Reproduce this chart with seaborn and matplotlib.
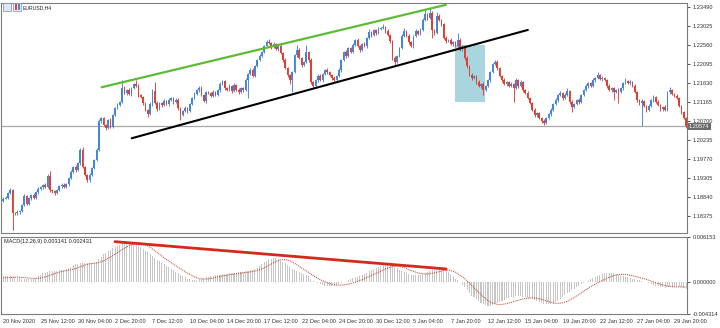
import numpy as np
import matplotlib
matplotlib.use("Agg")
import matplotlib.pyplot as plt
import matplotlib.transforms as mtransforms
from matplotlib.patches import Rectangle
import seaborn as sns

# ---------------- data (prices in pips above BASE) ----------------
BASE = 1.18
PIP = 0.0001
first_open_pips = 75
close_pips = [
    80, 82, 94, 101, 45, 44, 47, 50, 64, 86,
    68, 82, 89, 82, 96, 104, 109, 114, 109, 136,
    101, 98, 94, 101, 111, 114, 109, 116, 131, 145,
    158, 150, 167, 200, 158, 138, 126, 138, 155, 175,
    199, 270, 277, 261, 253, 273, 256, 285, 302, 310,
    317, 351, 339, 346, 337, 351, 361, 356, 334, 329,
    314, 297, 288, 312, 345, 315, 300, 314, 309, 319,
    312, 322, 327, 317, 322, 302, 285, 295, 302, 295,
    312, 327, 337, 346, 351, 334, 319, 341, 339, 332,
    341, 334, 346, 361, 368, 351, 346, 356, 344, 359,
    346, 341, 351, 346, 371, 386, 395, 381, 405, 420,
    430, 440, 454, 464, 462, 452, 459, 447, 454, 437,
    420, 400, 383, 371, 390, 432, 444, 425, 408, 415,
    440, 420, 366, 356, 371, 381, 371, 386, 395, 390,
    383, 376, 371, 381, 395, 420, 440, 430, 449, 440,
    457, 469, 454, 444, 459, 454, 474, 489, 481, 493,
    486, 496, 498, 501, 491, 481, 466, 425, 415, 430,
    449, 479, 491, 479, 464, 454, 479, 491, 484, 493,
    518, 533, 523, 535, 493, 486, 528, 518, 508, 474,
    466, 469, 459, 464, 454, 469, 444, 454, 425, 405,
    383, 376, 381, 366, 356, 361, 346, 356, 371, 390,
    410, 415, 400, 381, 371, 361, 366, 356, 361, 351,
    371, 356, 366, 346, 339, 327, 314, 297, 285, 290,
    277, 270, 265, 277, 287, 297, 312, 322, 334, 339,
    327, 334, 344, 317, 305, 312, 322, 317, 334, 346,
    356, 363, 356, 371, 376, 383, 373, 376, 371, 356,
    346, 351, 341, 346, 341, 351, 363, 368, 363, 366,
    356, 341, 322, 314, 319, 307, 297, 307, 322, 329,
    317, 309, 300, 305, 297, 341, 346, 337, 332, 327,
    307, 292, 277, 257,
]
upper_wick_pips = [
    3, 4, 2, 5, 3, 2, 4, 3, 2, 5,
    4, 3, 2, 5, 3, 4, 2, 3, 5, 4,
    12, 3, 4, 2, 3, 5, 4, 2, 3, 4,
    3, 5, 2, 4, 6, 3, 2, 4, 3, 2,
    4, 5, 3, 4, 2, 3, 5, 2, 3, 4,
    2, 20, 4, 3, 5, 2, 3, 11, 4, 3,
    2, 4, 3, 5, 3, 20, 4, 3, 2, 5,
    3, 4, 2, 3, 5, 4, 2, 3, 4, 3,
    2, 3, 4, 3, 5, 4, 3, 2, 4, 3,
    5, 2, 3, 4, 3, 4, 2, 5, 3, 4,
    3, 4, 2, 3, 4, 3, 5, 4, 2, 3,
    4, 3, 2, 5, 7, 3, 4, 2, 3, 4,
    3, 4, 2, 3, 4, 3, 13, 4, 3, 2,
    17, 3, 4, 2, 3, 5, 4, 2, 3, 4,
    3, 2, 4, 3, 5, 2, 3, 4, 3, 2,
    4, 3, 5, 2, 3, 4, 3, 7, 2, 4,
    3, 4, 2, 7, 3, 4, 2, 3, 4, 3,
    2, 4, 7, 3, 4, 2, 3, 4, 3, 5,
    4, 9, 3, 12, 4, 3, 10, 4, 3, 2,
    4, 3, 5, 2, 3, 17, 4, 3, 2, 4,
    3, 4, 2, 3, 4, 3, 5, 2, 3, 4,
    3, 5, 4, 3, 2, 4, 3, 2, 4, 3,
    5, 3, 4, 2, 3, 4, 3, 2, 4, 3,
    2, 3, 4, 3, 2, 4, 3, 5, 2, 4,
    3, 4, 7, 3, 4, 2, 3, 4, 3, 2,
    4, 3, 2, 4, 3, 7, 3, 4, 2, 3,
    4, 3, 2, 3, 4, 3, 2, 8, 3, 4,
    3, 4, 2, 3, 4, 3, 2, 4, 3, 5,
    3, 4, 2, 3, 4, 3, 8, 2, 3, 4,
    3, 2, 4, 3,
]
lower_wick_pips = [
    3, 2, 4, 3, 42, 5, 3, 4, 2, 3,
    4, 3, 5, 2, 3, 4, 2, 5, 3, 2,
    4, 3, 5, 2, 3, 4, 3, 2, 4, 3,
    2, 4, 3, 5, 2, 3, 5, 4, 3, 2,
    3, 2, 4, 3, 5, 2, 3, 4, 2, 3,
    4, 3, 2, 4, 3, 5, 2, 3, 4, 3,
    5, 3, 8, 2, 4, 3, 5, 2, 4, 3,
    2, 4, 3, 5, 2, 4, 13, 3, 2, 4,
    3, 2, 4, 3, 5, 2, 3, 4, 2, 3,
    4, 3, 2, 5, 3, 4, 2, 3, 4, 3,
    2, 4, 3, 5, 3, 44, 2, 4, 3, 2,
    3, 4, 2, 3, 4, 5, 3, 2, 4, 3,
    4, 3, 5, 10, 30, 3, 4, 3, 5, 2,
    3, 4, 5, 3, 2, 4, 3, 5, 2, 4,
    3, 4, 8, 3, 2, 4, 3, 5, 2, 3,
    3, 4, 2, 5, 3, 2, 4, 3, 4, 2,
    4, 3, 2, 3, 4, 3, 5, 4, 7, 3,
    2, 3, 4, 3, 5, 2, 4, 3, 2, 4,
    3, 2, 4, 3, 19, 4, 3, 2, 5, 3,
    4, 2, 3, 5, 3, 4, 3, 2, 4, 5,
    3, 4, 2, 5, 3, 4, 12, 3, 2, 4,
    3, 2, 4, 3, 5, 2, 4, 3, 2, 34,
    3, 4, 2, 5, 3, 4, 2, 3, 5, 4,
    3, 4, 5, 2, 3, 4, 2, 3, 4, 3,
    5, 3, 2, 4, 13, 3, 2, 4, 3, 2,
    3, 4, 2, 3, 4, 3, 2, 4, 3, 5,
    3, 4, 19, 2, 27, 3, 4, 2, 3, 4,
    2, 3, 5, 4, 56, 3, 4, 2, 3, 4,
    3, 2, 4, 5, 3, 2, 4, 3, 2, 4,
    3, 4, 2, 3,
]
# MACD(12,26,9) values in units of 1e-5
macd_main_e5 = [
    80, 82, 83, 80, 75, 68, 60, 55, 50, 47,
    45, 44, 46, 50, 62, 80, 100, 120, 130, 140,
    150, 152, 155, 158, 160, 165, 170, 180, 195, 212,
    230, 245, 255, 260, 262, 260, 258, 260, 262, 268,
    280, 320, 350, 380, 400, 420, 440, 460, 480, 495,
    510, 530, 540, 550, 552, 550, 545, 530, 505, 480,
    455, 430, 405, 380, 355, 330, 305, 285, 265, 245,
    225, 205, 185, 165, 145, 125, 105, 85, 65, 50,
    38, 30, 28, 32, 40, 50, 60, 68, 75, 82,
    88, 93, 98, 103, 108, 112, 116, 120, 124, 128,
    132, 135, 138, 142, 148, 155, 162, 172, 185, 200,
    220, 245, 270, 292, 310, 322, 330, 328, 315, 295,
    280, 260, 235, 205, 180, 165, 150, 135, 120, 110,
    100, 80, 50, 20, 5, -10, -25, -40, -45, -50,
    -52, -50, -45, -35, -25, -10, 0, 10, 25, 40,
    55, 65, 75, 80, 95, 110, 130, 150, 165, 180,
    195, 210, 220, 235, 250, 260, 255, 235, 210, 190,
    170, 150, 135, 120, 110, 105, 100, 100, 100, 105,
    115, 125, 140, 150, 160, 170, 180, 190, 185, 180,
    170, 145, 115, 80, 50, 25, 0, -35, -70, -110,
    -150, -180, -205, -230, -255, -280, -300, -315, -320, -318,
    -310, -295, -280, -265, -250, -235, -220, -210, -200, -195,
    -190, -190, -190, -195, -200, -210, -220, -230, -245, -260,
    -275, -285, -295, -300, -300, -298, -290, -270, -250, -225,
    -195, -170, -150, -130, -110, -90, -60, -45, -30, -15,
    0, 20, 40, 55, 70, 85, 100, 110, 120, 125,
    130, 128, 122, 115, 105, 90, 82, 75, 68, 60,
    50, 42, 35, 28, 20, 10, 0, -15, -28, -40,
    -48, -55, -62, -70, -72, -70, -66, -60, -56, -55,
    -60, -68, -78, -88,
]
macd_signal_e5 = [
    60, 62, 64, 66, 68, 70, 70, 68, 66, 63,
    60, 57, 54, 52, 52, 54, 58, 64, 72, 82,
    94, 106, 118, 128, 137, 145, 152, 158, 164, 170,
    178, 188, 198, 210, 222, 233, 243, 250, 255, 259,
    263, 270, 280, 292, 307, 323, 342, 362, 383, 405,
    425, 445, 464, 482, 498, 511, 522, 530, 535, 535,
    523, 511, 494, 476, 454, 430, 405, 381, 357, 333,
    310, 288, 266, 245, 225, 205, 185, 165, 145, 125,
    107, 90, 75, 62, 52, 46, 44, 44, 46, 51,
    57, 64, 71, 78, 85, 91, 97, 102, 107, 112,
    116, 120, 124, 128, 132, 136, 141, 146, 152, 160,
    170, 182, 196, 212, 230, 248, 266, 282, 296, 305,
    308, 306, 300, 290, 275, 257, 237, 215, 194, 174,
    155, 135, 112, 90, 70, 52, 35, 20, 7, -5,
    -15, -25, -33, -38, -40, -39, -36, -32, -26, -19,
    -10, 0, 12, 24, 36, 50, 64, 78, 92, 106,
    120, 135, 150, 165, 180, 193, 205, 213, 218, 218,
    215, 208, 198, 186, 172, 160, 148, 137, 127, 120,
    115, 113, 113, 116, 121, 128, 136, 144, 152, 160,
    164, 164, 160, 150, 136, 118, 97, 74, 48, 20,
    -10, -42, -75, -108, -140, -170, -198, -224, -248, -268,
    -283, -294, -300, -302, -300, -296, -290, -282, -272, -262,
    -252, -243, -235, -228, -222, -217, -214, -213, -214, -218,
    -224, -232, -242, -252, -262, -272, -280, -285, -287, -285,
    -280, -270, -258, -243, -226, -208, -188, -167, -145, -122,
    -100, -80, -60, -42, -25, -8, 8, 24, 40, 55,
    68, 80, 90, 98, 104, 107, 108, 106, 102, 96,
    89, 81, 73, 65, 57, 48, 38, 28, 17, 5,
    -7, -18, -28, -37, -45, -52, -57, -60, -62, -63,
    -63, -63, -64, -66,
]
date_labels = ["20 Nov 2020", "25 Nov 12:00", "30 Nov 04:00", "2 Dec 20:00",
               "7 Dec 12:00", "10 Dec 04:00", "14 Dec 20:00", "17 Dec 12:00",
               "22 Dec 04:00", "24 Dec 20:00", "30 Dec 12:00", "5 Jan 04:00",
               "7 Jan 20:00", "12 Jan 12:00", "15 Jan 04:00", "19 Jan 20:00",
               "22 Jan 12:00", "27 Jan 04:00", "29 Jan 20:00"]
date_label_bars = [0, 16, 32, 48, 64, 80, 96, 112, 128, 144, 160, 176,
                   192, 208, 224, 240, 256, 272, 288]
price_ticks = [1.23490, 1.23025, 1.22560, 1.22095, 1.21630, 1.21165,
               1.20700, 1.20235, 1.19770, 1.19305, 1.18840, 1.18375]
macd_ticks = [0.006153, 0.000000, -0.004314]
current_price = 1.20574
green_line_bars = [42.2, 189.9]
green_line_prices = [1.2153, 1.2355]
black_line_bars = [55.1, 225.1]
black_line_prices = [1.2028, 1.22935]
macd_line_bars = [47.9, 190.0]
macd_line_values = [0.00552, 0.00181]
box_bars = [193.9, 206.7]
box_prices = [1.2117, 1.2257]
symbol_title = "EURUSD,H4"
macd_title = "MACD(12,26,9) 0.003141 0.002431"

# ---------------- derived arrays ----------------
n = len(close_pips)
idx = np.arange(n)
close = BASE + np.array(close_pips) * PIP
opens = np.concatenate([[BASE + first_open_pips * PIP], close[:-1]])
high = np.maximum(opens, close) + np.array(upper_wick_pips) * PIP
low = np.minimum(opens, close) - np.array(lower_wick_pips) * PIP
macd_main = np.array(macd_main_e5) * 1e-5
macd_signal = np.array(macd_signal_e5) * 1e-5

BLUE = "#4485dc"
RED = "#de4034"
cols = np.where(close >= opens, BLUE, RED)

# ---------------- figure ----------------
sns.set_style("white")
plt.rcParams["font.family"] = ["Liberation Sans", "DejaVu Sans"]
W, H = 720, 328
fig = plt.figure(figsize=(7.2, 3.28), dpi=100)
fig.patch.set_facecolor("white")

def fbox(x0, y0, x1, y1):
    return [x0 / W, 1 - y1 / H, (x1 - x0) / W, (y1 - y0) / H]

ax1 = fig.add_axes(fbox(1, 3, 687, 233))
ax2 = fig.add_axes(fbox(1, 237, 687, 314))
XMIN, XMAX = -0.99, 293.4

# cyan box
ax1.add_patch(Rectangle((box_bars[0], box_prices[0]), box_bars[1] - box_bars[0],
                        box_prices[1] - box_prices[0], facecolor="#a9d6de",
                        edgecolor="none", zorder=1))
# current price line
ax1.axhline(current_price, color="#a8a8a8", lw=0.9, zorder=1.5)
# candles
ax1.vlines(idx, low, high, colors=cols, lw=0.65, zorder=2)
body_h = np.maximum(np.abs(close - opens), 0.00004)
ax1.bar(idx, body_h, bottom=np.minimum(opens, close), width=0.72,
        color=cols, linewidth=0, zorder=3)
# trend lines
sns.lineplot(x=green_line_bars, y=green_line_prices, ax=ax1, color="#5dbb36",
             lw=1.6, zorder=4)
sns.lineplot(x=black_line_bars, y=black_line_prices, ax=ax1, color="#000000",
             lw=1.5, zorder=4)

ax1.set_xlim(XMIN, XMAX)
ax1.set_ylim(1.17958, 1.23595)
ax1.yaxis.tick_right()
ax1.set_yticks(price_ticks)
ax1.set_yticklabels([f"{v:.5f}" for v in price_ticks])
ax1.set_xticks([])
ax1.tick_params(axis="y", length=2.5, width=0.6, pad=1.5, labelsize=4.1,
                colors="#333333", direction="out")

# price box
trans = mtransforms.blended_transform_factory(ax1.transAxes, ax1.transData)
ax1.text(1.003, current_price, f"{current_price:.5f}", transform=trans,
         fontsize=4.1, color="white", va="center", ha="left",
         bbox=dict(boxstyle="square,pad=0.2", fc="#6b6b6b", ec="none"),
         zorder=6, clip_on=False)

# MACD panel
ax2.bar(idx, macd_main, width=0.45, color="#c6c6c6", linewidth=0, zorder=2)
sns.lineplot(x=idx, y=macd_signal, ax=ax2, color="#c0392b", lw=0.7,
             linestyle=(0, (1, 1)), zorder=3)
sns.lineplot(x=macd_line_bars, y=macd_line_values, ax=ax2, color="#d42a1c",
             lw=2.0, zorder=4)
ax2.set_xlim(XMIN, XMAX)
ax2.set_ylim(macd_ticks[2], macd_ticks[0])
ax2.yaxis.tick_right()
ax2.set_yticks(macd_ticks)
ax2.set_yticklabels([f"{v:.6f}" for v in macd_ticks])
ax2.set_xticks(date_label_bars)
ax2.set_xticklabels(date_labels, ha="left")
ax2.tick_params(axis="y", length=2.5, width=0.6, pad=1.5, labelsize=4.1,
                colors="#333333", direction="out")
ax2.tick_params(axis="x", length=0, pad=3.5, labelsize=4.1, colors="#333333")
for lbl in ax2.get_xticklabels():
    lbl.set_horizontalalignment("left")
ax2.set_xlabel("")
ax2.set_ylabel("")
ax1.set_xlabel("")
ax1.set_ylabel("")
ax2.text(0.004, 0.97, macd_title, transform=ax2.transAxes, fontsize=4.0,
         va="top", ha="left", color="#222222")

for ax in (ax1, ax2):
    for sp in ax.spines.values():
        sp.set_visible(True)
        sp.set_color("#7c7c7c")
        sp.set_linewidth(0.8)
    ax.set_facecolor("white")

# title + icons
fig.text(23 / W, 1 - 7.5 / H, symbol_title, fontsize=3.7, va="center",
         ha="left", color="#222222")
fig.add_artist(Rectangle((3 / W, 1 - 11 / H), 8 / W, 8 / H,
                         transform=fig.transFigure, fc="#dfe6ef",
                         ec="#7890b0", lw=0.5))
fig.add_artist(Rectangle((13 / W, 1 - 11 / H), 8 / W, 8 / H,
                         transform=fig.transFigure, fc="#eef0f4",
                         ec="#7890b0", lw=0.5))
fig.add_artist(Rectangle((14.5 / W, 1 - 10 / H), 2 / W, 6 / H,
                         transform=fig.transFigure, fc=RED, ec="none"))
fig.add_artist(Rectangle((17.5 / W, 1 - 10 / H), 2 / W, 6 / H,
                         transform=fig.transFigure, fc=BLUE, ec="none"))

fig.savefig("out.png", dpi=100)
